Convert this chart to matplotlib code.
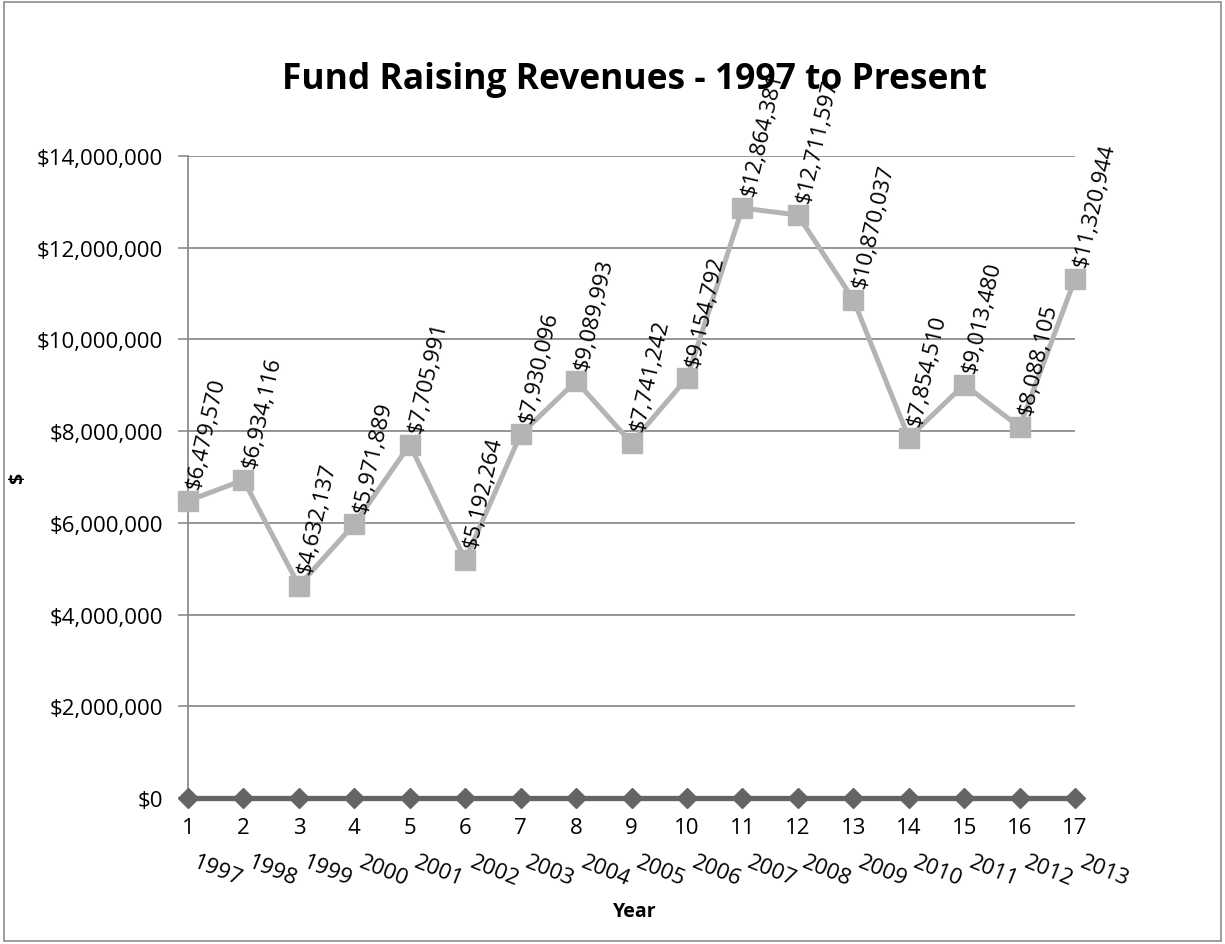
import matplotlib.pyplot as plt
from matplotlib.patches import Rectangle
from matplotlib.ticker import FuncFormatter

plt.rcParams['font.family'] = ['Open Sans', 'DejaVu Sans']

# chart data
periods = list(range(1, 18))
years = ['1997', '1998', '1999', '2000', '2001', '2002', '2003', '2004', '2005',
         '2006', '2007', '2008', '2009', '2010', '2011', '2012', '2013']
revenues = [6479570, 6934116, 4632137, 5971889, 7705991, 5192264, 7930096,
            9089993, 7741242, 9154792, 12864381, 12711597, 10870037, 7854510,
            9013480, 8088105, 11320944]
baseline = [0] * 17

fig = plt.figure(figsize=(12.25, 9.45), dpi=100)
ax = fig.add_axes([0.1535, 0.1545, 0.7241, 0.6794])

# outer chart frame
fig.patches.append(Rectangle((0.003, 0.003), 0.994, 0.994, transform=fig.transFigure,
                             fill=False, edgecolor='#8c8c8c', linewidth=1.2))

ax.plot(periods, baseline, color='#646464', linewidth=3.8, marker='D',
        markersize=10, clip_on=False, zorder=4)
ax.plot(periods, revenues, color='#b4b4b4', linewidth=3.6, marker='s',
        markersize=14, clip_on=False, zorder=5)

for x, v in zip(periods, revenues):
    ax.annotate(f'${v:,.0f}', (x, v), xytext=(4, 9), textcoords='offset points',
                rotation=77, rotation_mode='anchor', ha='left', va='center',
                fontsize=16, zorder=6, annotation_clip=False)

ax.set_xlim(1, 17)
ax.set_ylim(0, 14000000)
ax.set_yticks(range(0, 14000001, 2000000))
ax.yaxis.set_major_formatter(FuncFormatter(lambda v, p: f'${v:,.0f}'))
ax.set_xticks(periods)
ax.tick_params(axis='y', labelsize=16, length=7, color='#8c8c8c', width=1.2, pad=11)
ax.tick_params(axis='x', labelsize=16, length=0, pad=14)

ax.grid(axis='y', color='#8c8c8c', linewidth=1.3)
ax.set_axisbelow(True)
for side in ['top', 'right', 'bottom']:
    ax.spines[side].set_visible(False)
ax.spines['left'].set_color('#8c8c8c')
ax.spines['left'].set_linewidth(1.3)

# rotated year labels under the period numbers
for x, yr in zip(periods, years):
    ax.annotate(yr, (x, 0), xycoords=('data', 'axes fraction'), xytext=(4, -45),
                textcoords='offset points', rotation=-22, rotation_mode='anchor',
                ha='left', va='center', fontsize=16, annotation_clip=False)

fig.text(0.518, 0.035, 'Year', ha='center', va='center', fontsize=14, fontweight='bold')
fig.text(0.015, 0.494, '$', ha='center', va='center', rotation=90, fontsize=14,
         fontweight='bold')
fig.text(0.518, 0.915, 'Fund Raising Revenues - 1997 to Present', ha='center',
         va='center', fontsize=25.5, fontweight='bold')

fig.savefig('out.png', dpi=100)
